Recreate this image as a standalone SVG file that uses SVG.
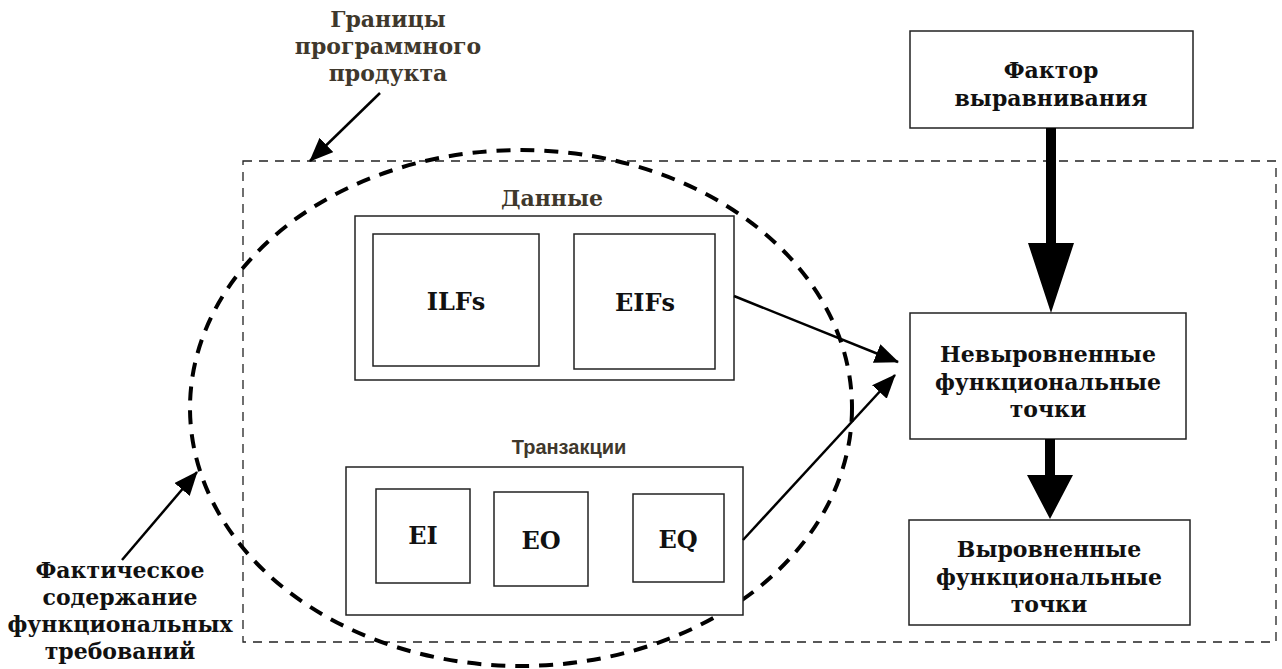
<svg xmlns="http://www.w3.org/2000/svg" width="1282" height="669" viewBox="0 0 1282 669">
<style>
.t{font-family:'DejaVu Serif',serif;font-weight:bold;font-size:22px;fill:#111;text-anchor:middle}
.br{fill:#3f382c}
.box{fill:#fff;stroke:#222;stroke-width:1.5}
.lbl{font-family:'DejaVu Serif',serif;font-weight:bold;font-size:24px;fill:#111;text-anchor:middle}
.ln{stroke:#000;stroke-width:2.5;fill:none}
</style>
<defs>
<marker id="ah2" viewBox="0 0 24 20" refX="23" refY="10" markerWidth="24" markerHeight="20" orient="auto" markerUnits="userSpaceOnUse">
<path d="M0,0 L24,10 L0,20 Z" fill="#000"/>
</marker>
</defs>
<rect width="1282" height="669" fill="#fff"/>
<g id="boundary">
<rect x="243" y="161" width="1033" height="481" fill="none" stroke="#222" stroke-width="1.3" stroke-dasharray="9,7"/>
</g>
<g id="scope-ellipse">
<ellipse cx="521" cy="408" rx="331" ry="258" fill="none" stroke="#000" stroke-width="4" stroke-dasharray="14,10"/>
</g>
<g id="label-boundary">
<text class="t br" x="388" y="27">Границы</text>
<text class="t br" x="388" y="54">программного</text>
<text class="t br" x="388" y="81">продукта</text>
</g>
<g id="label-actual">
<text class="t" x="120" y="578">Фактическое</text>
<text class="t" x="120" y="605">содержание</text>
<text class="t" x="120" y="632">функциональных</text>
<text class="t" x="120" y="659">требований</text>
</g>
<g id="data">
<text class="t br" x="552" y="206">Данные</text>
<rect class="box" x="355" y="216" width="379" height="164"/>
</g>
<g id="ilfs">
<rect class="box" x="373" y="234" width="166" height="132"/>
<text class="lbl" x="456" y="310">ILFs</text>
</g>
<g id="eifs">
<rect class="box" x="574" y="234" width="141" height="135"/>
<text class="lbl" x="645" y="311">EIFs</text>
</g>
<g id="transactions">
<text x="569" y="454" style="font-family:'Liberation Sans',Arial,sans-serif;font-weight:bold;font-size:20px;fill:#3f382c;text-anchor:middle">Транзакции</text>
<rect class="box" x="346" y="467" width="397" height="148"/>
</g>
<g id="ei">
<rect class="box" x="376" y="489" width="94" height="94"/>
<text class="lbl" x="423" y="544">EI</text>
</g>
<g id="eo">
<rect class="box" x="494" y="492" width="94" height="94"/>
<text class="lbl" x="541" y="549">EO</text>
</g>
<g id="eq">
<rect class="box" x="633" y="494" width="91" height="88"/>
<text class="lbl" x="678" y="548">EQ</text>
</g>
<g id="factor">
<rect class="box" x="910" y="31" width="283" height="97"/>
<text class="t" x="1051" y="78">Фактор</text>
<text class="t" x="1051" y="106">выравнивания</text>
</g>
<g id="unadjusted">
<rect class="box" x="910" y="313" width="276" height="126"/>
<text class="t" x="1048" y="362">Невыровненные</text>
<text class="t" x="1048" y="390">функциональные</text>
<text class="t" x="1048" y="417">точки</text>
</g>
<g id="adjusted">
<rect class="box" x="909" y="520" width="281" height="105"/>
<text class="t" x="1049" y="557">Выровненные</text>
<text class="t" x="1049" y="585">функциональные</text>
<text class="t" x="1049" y="612">точки</text>
</g>
<g id="connectors">
<line class="ln" x1="380" y1="93" x2="310" y2="161" marker-end="url(#ah2)"/>
<line class="ln" x1="122" y1="560" x2="197" y2="472" marker-end="url(#ah2)"/>
<line class="ln" x1="734" y1="296" x2="898" y2="362" marker-end="url(#ah2)"/>
<line class="ln" x1="743" y1="540" x2="895" y2="375" marker-end="url(#ah2)"/>
<path d="M1046,128 L1056,128 L1056,243 L1074,243 L1051,313 L1028,243 L1046,243 Z" fill="#000"/>
<path d="M1045,439 L1055,439 L1055,475 L1073,475 L1050,519 L1027,475 L1045,475 Z" fill="#000"/>
</g>
</svg>
